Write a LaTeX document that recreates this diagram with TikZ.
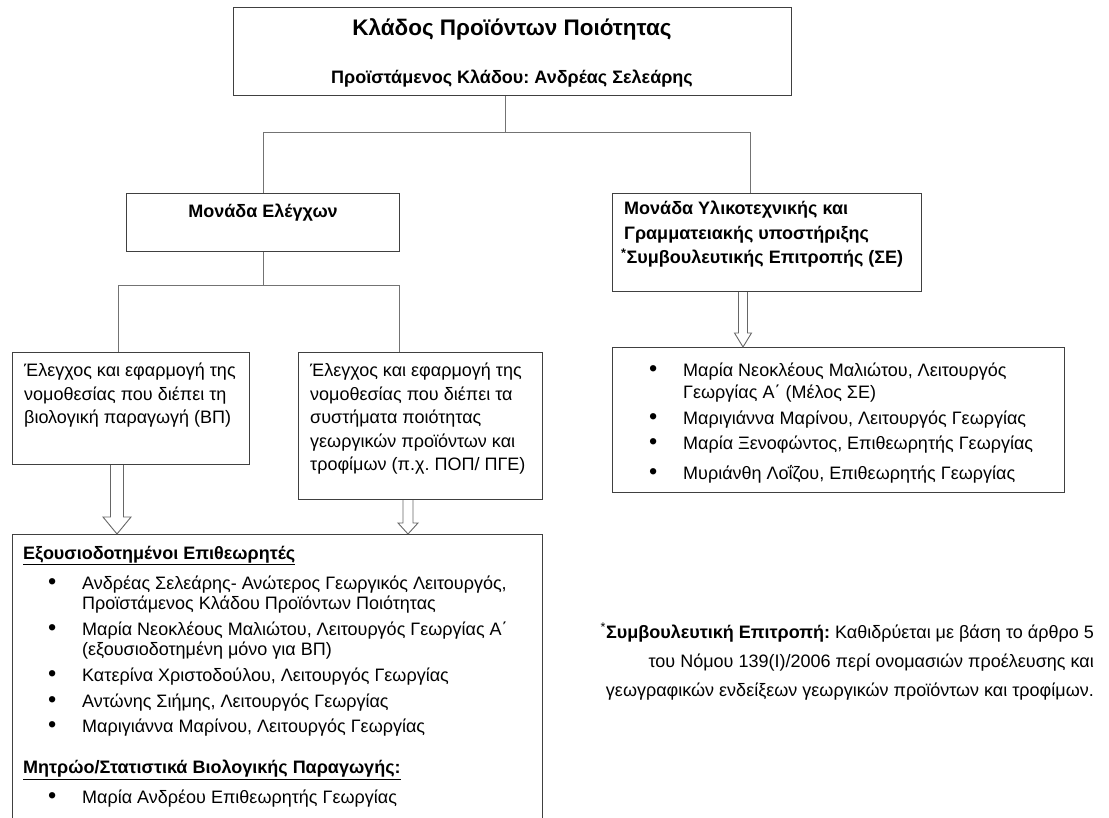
\documentclass[tikz,border=0pt]{standalone}
\usepackage{fontspec}
\setmainfont{Liberation Sans}
\usetikzlibrary{calc}
\frenchspacing

% hollow block arrow: start, tip, shaft half width, head half width, head length
\newcommand{\fatarrow}[5]{%
  \draw[fat] ($(#1)+(-#3,0)$) -- ($(#2)+(-#3,-#5)$) -- ($(#2)+(-#4,-#5)$) -- (#2)
    -- ($(#2)+(#4,-#5)$) -- ($(#2)+(#3,-#5)$) -- ($(#1)+(#3,0)$);}
\newcommand{\itm}{\makebox[34pt][l]{\raisebox{0.3pt}{\scalebox{1.3}{\textbullet}}}}
\newcommand{\cnt}{\hspace*{34pt}}

\begin{document}
\begin{tikzpicture}[x=1pt,y=-1pt,
  box/.style={draw=black!75, line width=1.1pt, anchor=north west, inner sep=0pt},
  txt/.style={anchor=north west, inner sep=0pt, align=left, font=\fontsize{18}{23.5}\selectfont},
  conn/.style={draw=black!55, line width=0.9pt},
  fat/.style={draw=black!60, line width=0.9pt, line join=miter}]
\useasboundingbox (0,0) rectangle (1109,818);
\clip (0,0) rectangle (1109,818);

% boxes
\node[box, minimum width=558pt, minimum height=88pt] (top) at (233,7) {};
\node[box, minimum width=273pt, minimum height=58pt] (unit1) at (126,193) {};
\node[box, minimum width=309pt, minimum height=98pt] (unit2) at (612,193) {};
\node[box, minimum width=237pt, minimum height=112pt] (ctl1) at (12,352) {};
\node[box, minimum width=244pt, minimum height=147pt] (ctl2) at (298,352) {};
\node[box, minimum width=452pt, minimum height=145pt] (staff) at (612,347) {};
\node[box, minimum width=530pt, minimum height=320pt] (insp) at (12,534) {};

% texts
\node[anchor=base, inner sep=0pt, font=\fontsize{22.5}{27}\selectfont\bfseries] (title) at (512,36) {Κλάδος Προϊόντων Ποιότητας};
\node[anchor=base, inner sep=0pt, font=\fontsize{18}{22}\selectfont\bfseries] (head) at (512,84) {Προϊστάμενος Κλάδου: Ανδρέας Σελεάρης};
\node[anchor=base, inner sep=0pt, font=\fontsize{18}{22}\selectfont\bfseries] (t1) at ($(unit1.north)+(0,25)$) {Μονάδα Ελέγχων};
\node[txt, font=\fontsize{18}{24.5}\selectfont\bfseries] (t2) at (624,201) {Μονάδα Υλικοτεχνικής και\\Γραμματειακής υποστήριξης\\\hspace*{-3pt}\textsuperscript{*}Συμβουλευτικής Επιτροπής (ΣΕ)};
\node[txt] (t3) at (24,363) {Έλεγχος και εφαρμογή της\\νομοθεσίας που διέπει τη\\βιολογική παραγωγή (ΒΠ)};
\node[txt] (t4) at (310,363) {Έλεγχος και εφαρμογή της\\νομοθεσίας που διέπει τα\\συστήματα ποιότητας\\γεωργικών προϊόντων και\\τροφίμων (π.χ. ΠΟΠ/ ΠΓΕ)};
\node[txt, font=\fontsize{18}{22}\selectfont] (t5) at (649,363) {\itm Μαρία Νεοκλέους Μαλιώτου, Λειτουργός\\\cnt Γεωργίας Α΄ (Μέλος ΣΕ)\\[4pt]\itm Μαριγιάννα Μαρίνου, Λειτουργός Γεωργίας\\[3pt]\itm Μαρία Ξενοφώντος, Επιθεωρητής Γεωργίας\\[8pt]\itm Μυριάνθη Λοΐζου, Επιθεωρητής Γεωργίας};
\node[txt, font=\fontsize{18}{20}\selectfont] (t6) at (23,546) {\underline{\textbf{Εξουσιοδοτημένοι Επιθεωρητές}}\\[10pt]
\hspace*{25pt}\itm Ανδρέας Σελεάρης- Ανώτερος Γεωργικός Λειτουργός,\\\hspace*{25pt}\cnt Προϊστάμενος Κλάδου Προϊόντων Ποιότητας\\[6pt]
\hspace*{25pt}\itm Μαρία Νεοκλέους Μαλιώτου, Λειτουργός Γεωργίας Α΄\\\hspace*{25pt}\cnt (εξουσιοδοτημένη μόνο για ΒΠ)\\[6pt]
\hspace*{25pt}\itm Κατερίνα Χριστοδούλου, Λειτουργός Γεωργίας\\[6pt]
\hspace*{25pt}\itm Αντώνης Σιήμης, Λειτουργός Γεωργίας\\[5.5pt]
\hspace*{25pt}\itm Μαριγιάννα Μαρίνου, Λειτουργός Γεωργίας\\[21pt]
\underline{\textbf{Μητρώο/Στατιστικά Βιολογικής Παραγωγής:}}\\[10pt]
\hspace*{25pt}\itm Μαρία Ανδρέου Επιθεωρητής Γεωργίας};
\node[anchor=north east, inner sep=0pt, align=right, font=\fontsize{18}{29}\selectfont] (note) at (1094,623) {\textsuperscript{*}\textbf{Συμβουλευτική Επιτροπή:} Καθιδρύεται με βάση το άρθρο 5\\του Νόμου 139(I)/2006 περί ονομασιών προέλευσης και\\γεωγραφικών ενδείξεων γεωργικών προϊόντων και τροφίμων.};

% connectors
\coordinate (j1) at ($(top.south west)+(272,36)$);
\coordinate (d2) at ($(unit2.north west)+(138,0)$);
\draw[conn] (top.south -| j1) -- (j1);
\draw[conn] (unit1.north) |- (j1) -| (d2);
\coordinate (j2) at ($(unit1.south)+(0,33)$);
\coordinate (d3) at ($(ctl1.north west)+(106,0)$);
\coordinate (d4) at ($(ctl2.north west)+(101,0)$);
\draw[conn] (unit1.south) -- (j2);
\draw[conn] (d3) |- (j2) -| (d4);

% block arrows
\coordinate (a1) at ($(ctl1.south west)+(105,0)$);
\coordinate (a2) at ($(ctl2.south west)+(110,0)$);
\coordinate (a3) at ($(unit2.south west)+(131,0)$);
\fatarrow{a1}{a1 |- insp.north}{6.5}{14}{17}
\fatarrow{a2}{a2 |- insp.north}{5}{10}{11}
\fatarrow{a3}{a3 |- staff.north}{4.5}{8.5}{14}
\end{tikzpicture}
\end{document}
